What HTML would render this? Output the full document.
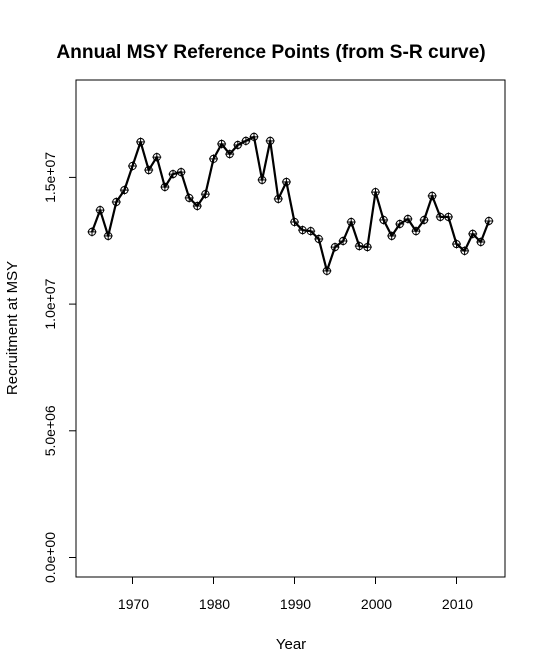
<!DOCTYPE html>
<html><head><meta charset="utf-8"><style>body{margin:0;background:#fff}svg{display:block;font-family:"Liberation Sans",Arial,sans-serif}</style></head>
<body>
<svg id="chart" width="544" height="653" viewBox="0 0 544 653">
<rect x="0" y="0" width="544" height="653" fill="#fff"/>
<text x="271" y="58" text-anchor="middle" font-size="19.2" font-weight="bold">Annual MSY Reference Points (from S-R curve)</text>
<rect x="76" y="80" width="429" height="497" fill="none" stroke="#000" stroke-width="1"/>
<g id="xaxis"></g>
<g id="yaxis"></g>
<text x="291" y="649" text-anchor="middle" font-size="15">Year</text>
<text transform="translate(17,328) rotate(-90)" text-anchor="middle" font-size="15">Recruitment at MSY</text>
<g id="series"></g>
</svg>
<script>
const years = [1965,1966,1967,1968,1969,1970,1971,1972,1973,1974,1975,1976,1977,1978,1979,1980,1981,1982,1983,1984,1985,1986,1987,1988,1989,1990,1991,1992,1993,1994,1995,1996,1997,1998,1999,2000,2001,2002,2003,2004,2005,2006,2007,2008,2009,2010,2011,2012,2013,2014];
const recruitment = [12.85e6,13.71e6,12.69e6,14.03e6,14.50e6,15.45e6,16.40e6,15.29e6,15.80e6,14.62e6,15.13e6,15.21e6,14.19e6,13.87e6,14.34e6,15.73e6,16.32e6,15.92e6,16.28e6,16.44e6,16.60e6,14.90e6,16.44e6,14.15e6,14.82e6,13.24e6,12.92e6,12.88e6,12.57e6,11.31e6,12.25e6,12.49e6,13.24e6,12.29e6,12.25e6,14.42e6,13.32e6,12.69e6,13.16e6,13.36e6,12.88e6,13.32e6,14.27e6,13.44e6,13.44e6,12.37e6,12.10e6,12.77e6,12.45e6,13.28e6];
const xTicks = [1970,1980,1990,2000,2010];
const yTicks = [0,5e6,10e6,15e6];
const yTickLabels = ["0.0e+00","5.0e+06","1.0e+07","1.5e+07"];

const NS="http://www.w3.org/2000/svg";
function xs(v){return 92+(v-1965)*8.1;}
function ys(v){return 557.5-v/5e6*126.7;}
function mk(tag,attrs,parent){const e=document.createElementNS(NS,tag);for(const k in attrs)e.setAttribute(k,attrs[k]);parent.appendChild(e);return e;}
const xa=document.getElementById('xaxis'), ya=document.getElementById('yaxis'), sg=document.getElementById('series');
mk('line',{x1:xs(xTicks[0]),x2:xs(xTicks[xTicks.length-1]),y1:577,y2:577,stroke:'#000'},xa);
xTicks.forEach(t=>{
  const l=mk('line',{x1:xs(t),x2:xs(t),y1:577,y2:584,stroke:'#000'},xa);
  
  
  const tx=mk('text',{x:xs(t)+1,y:609,'text-anchor':'middle','font-size':'14'},xa);
  tx.textContent=t;
  
  
});
mk('line',{x1:76,x2:76,y1:ys(yTicks[0]),y2:ys(yTicks[yTicks.length-1]),stroke:'#000'},ya);
yTicks.forEach((t,i)=>{
  const l=mk('line',{x1:69,x2:76,y1:ys(t),y2:ys(t),stroke:'#000'},ya);
  
  
  const tx=mk('text',{'text-anchor':'middle','font-size':'14',transform:`translate(55,${ys(t)}) rotate(-90)`},ya);
  tx.textContent=yTickLabels[i];
  
  
});
const pts=years.map((y,i)=>xs(y).toFixed(1)+','+ys(recruitment[i]).toFixed(1)).join(' ');
const line=mk('polyline',{points:pts,fill:'none',stroke:'#000','stroke-width':'2.2','stroke-linejoin':'round'},sg);


years.forEach((y,i)=>{
  const cx=xs(y), cy=ys(recruitment[i]);
  const g=mk('g',{},sg);
  
  
  mk('circle',{cx:cx,cy:cy,r:3.6,fill:'none',stroke:'#000','stroke-width':'1'},g);
  mk('line',{x1:cx-4.5,x2:cx+4.5,y1:cy,y2:cy,stroke:'#000','stroke-width':'1'},g);
  mk('line',{x1:cx,x2:cx,y1:cy-4.5,y2:cy+4.5,stroke:'#000','stroke-width':'1'},g);
});
</script>
</body></html>
